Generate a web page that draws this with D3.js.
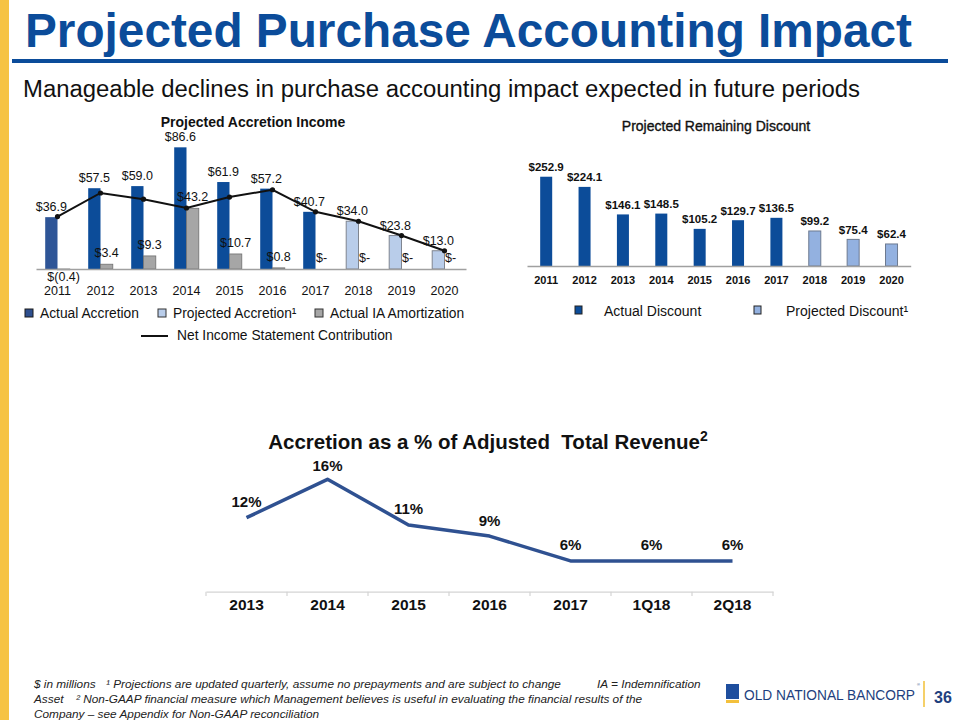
<!DOCTYPE html>
<html>
<head>
<meta charset="utf-8">
<script src="https://cdn.jsdelivr.net/npm/d3@7"></script>
<style>
  html, body { margin: 0; padding: 0; background: #fff; }
  text { font-family: "Liberation Sans", Arial, sans-serif; }
</style>
</head>
<body>
<svg id="chart" width="960" height="720"></svg>
<script>
// ---------- DATA ----------
const accYears = ["2011","2012","2013","2014","2015","2016","2017","2018","2019","2020"];
const actualAccretion = [36.9, 57.5, 59.0, 86.6, 61.9, 57.2, 40.7, null, null, null];
const projectedAccretion = [null, null, null, null, null, null, null, 34.0, 23.8, 13.0];
const iaAmortization = [-0.4, 3.4, 9.3, 43.2, 10.7, 0.8, 0, 0, 0, 0];
const netContribution = [37.3, 54.1, 49.7, 43.4, 51.2, 56.4, 40.7, 34.0, 23.8, 13.0];

const discYears = ["2011","2012","2013","2014","2015","2016","2017","2018","2019","2020"];
const actualDiscount = [252.9, 224.1, 146.1, 148.5, 105.2, 129.7, 136.5, null, null, null];
const projectedDiscount = [null, null, null, null, null, null, null, 99.2, 75.4, 62.4];

const revCategories = ["2013","2014","2015","2016","2017","1Q18","2Q18"];
const accretionPct = [11.6, 16.4, 10.7, 9.3, 6.2, 6.2, 6.2];

// ---------- HELPERS ----------
const svg = d3.select("#chart");
const money = v => v === 0 ? "$-" : (v < 0 ? "$(" + Math.abs(v).toFixed(1) + ")" : "$" + v.toFixed(1));
const pct = v => d3.format(".0f")(v) + "%";

svg.append("rect").attr("width", 960).attr("height", 720).attr("fill", "#fff");

// left gold bar
svg.append("rect").attr("x", 0).attr("y", 0).attr("width", 9).attr("height", 720).attr("fill", "#F6C343");

// ---------- HEADER ----------
svg.append("text").attr("x", 25).attr("y", 47)
  .attr("font-size", 47.6).attr("font-weight", "bold").attr("fill", "#0B4C9A")
  .attr("textLength", 887).attr("lengthAdjust", "spacingAndGlyphs")
  .text("Projected Purchase Accounting Impact");
svg.append("rect").attr("x", 12).attr("y", 59).attr("width", 936).attr("height", 4).attr("fill", "#0B4C9A");
svg.append("text").attr("x", 23).attr("y", 97)
  .attr("font-size", 23).attr("fill", "#111")
  .attr("textLength", 837).attr("lengthAdjust", "spacingAndGlyphs")
  .text("Manageable declines in purchase accounting impact expected in future periods");

// ---------- LEFT CHART: Projected Accretion Income ----------
const gL = svg.append("g");
const xL = d3.scaleBand().domain(accYears).range([36, 466]).paddingInner(0.428).paddingOuter(0.214);
const xLsub = d3.scaleBand().domain(["acc", "ia"]).range([0, xL.bandwidth()]);
const yL = d3.scaleLinear().domain([0, 100]).range([269, 128.5]);

gL.append("text").attr("x", 253).attr("y", 127).attr("text-anchor", "middle")
  .attr("font-size", 14).attr("font-weight", "bold").attr("fill", "#111")
  .text("Projected Accretion Income");

const accData = accYears.map((y, i) => ({
  year: y,
  value: actualAccretion[i] != null ? actualAccretion[i] : projectedAccretion[i],
  projected: actualAccretion[i] == null,
  ia: iaAmortization[i],
  net: netContribution[i],
  i: i
}));

// accretion bars
gL.selectAll(".acc").data(accData).enter().append("rect")
  .attr("x", d => xL(d.year) + xLsub("acc"))
  .attr("y", d => yL(Math.max(d.value, 0)))
  .attr("width", xLsub.bandwidth())
  .attr("height", d => Math.abs(yL(d.value) - yL(0)))
  .attr("fill", d => d.projected ? "#B9CDEA" : (d.i === 0 ? "#2E5597" : "#0C4C99"))
  .attr("stroke", d => d.projected ? "#7F8590" : "none")
  .attr("stroke-width", 1);

// IA amortization bars
gL.selectAll(".ia").data(accData.filter(d => d.ia !== 0)).enter().append("rect")
  .attr("x", d => xL(d.year) + xLsub("ia"))
  .attr("y", d => yL(Math.max(d.ia, 0)))
  .attr("width", xLsub.bandwidth())
  .attr("height", d => Math.max(Math.abs(yL(d.ia) - yL(0)), 0.8))
  .attr("fill", "#A6A6A6").attr("stroke", "#6F6F6F").attr("stroke-width", 0.8);

// axis
const axL = gL.append("g").attr("transform", "translate(0,269)")
  .call(d3.axisBottom(xL).tickSize(0).tickSizeOuter(0).tickPadding(17));
axL.select(".domain").attr("stroke", "#A0A0A0").attr("stroke-width", 1.5);
axL.selectAll("text").attr("font-size", 12.5).attr("fill", "#111")
  .attr("font-family", "Liberation Sans, Arial, sans-serif");

// net line
const lineL = d3.line().x(d => xL(d.year) + xL.bandwidth() / 2).y(d => yL(d.net));
gL.append("path").datum(accData).attr("d", lineL)
  .attr("fill", "none").attr("stroke", "#111").attr("stroke-width", 2);
gL.selectAll(".dot").data(accData).enter().append("circle")
  .attr("cx", d => xL(d.year) + xL.bandwidth() / 2).attr("cy", d => yL(d.net))
  .attr("r", 2.6).attr("fill", "#111");

// labels accretion
gL.selectAll(".accLbl").data(accData).enter().append("text")
  .attr("x", d => xL(d.year) + xLsub("acc") + xLsub.bandwidth() / 2)
  .attr("y", d => yL(d.value) - 6)
  .attr("text-anchor", "middle").attr("font-size", 12.5).attr("fill", "#111")
  .text(d => money(d.value));
// labels IA
gL.selectAll(".iaLbl").data(accData).enter().append("text")
  .attr("x", d => xL(d.year) + xLsub("ia") + xLsub.bandwidth() / 2)
  .attr("y", d => d.ia < 0 ? yL(0) + 12 : yL(d.ia) - 7)
  .attr("text-anchor", "middle").attr("font-size", 12.5).attr("fill", "#111")
  .text(d => money(d.ia));

// left legend
const legL = svg.append("g");
const legItems = [
  { x: 25, fill: "#2E4F8E", stroke: "#1A1A1A", label: "Actual Accretion" },
  { x: 158, fill: "#B9CDEA", stroke: "#333", label: "Projected Accretion¹" },
  { x: 315, fill: "#A6A6A6", stroke: "#333", label: "Actual IA Amortization" }
];
legItems.forEach(it => {
  legL.append("rect").attr("x", it.x).attr("y", 309).attr("width", 8).attr("height", 8)
    .attr("fill", it.fill).attr("stroke", it.stroke).attr("stroke-width", 1);
  legL.append("text").attr("x", it.x + 15).attr("y", 318).attr("font-size", 13.8).attr("fill", "#111").text(it.label);
});
legL.append("line").attr("x1", 141).attr("x2", 168).attr("y1", 336).attr("y2", 336)
  .attr("stroke", "#111").attr("stroke-width", 2);
legL.append("text").attr("x", 177).attr("y", 340).attr("font-size", 13.8).attr("fill", "#111")
  .text("Net Income Statement Contribution");

// ---------- RIGHT CHART: Projected Remaining Discount ----------
const gR = svg.append("g");
const xR = d3.scaleBand().domain(discYears).range([527, 910.7]).paddingInner(0.687).paddingOuter(0.3435);
const yR = d3.scaleLinear().domain([0, 300]).range([266, 160.1]);

gR.append("text").attr("x", 716).attr("y", 131).attr("text-anchor", "middle")
  .attr("font-size", 14).attr("fill", "#111").attr("stroke", "#111").attr("stroke-width", 0.35)
  .text("Projected Remaining Discount");

const discData = discYears.map((y, i) => ({
  year: y,
  value: actualDiscount[i] != null ? actualDiscount[i] : projectedDiscount[i],
  projected: actualDiscount[i] == null
}));

gR.selectAll(".bar").data(discData).enter().append("rect")
  .attr("x", d => xR(d.year)).attr("y", d => yR(d.value))
  .attr("width", xR.bandwidth()).attr("height", d => yR(0) - yR(d.value))
  .attr("fill", d => d.projected ? "#93B1E0" : "#0C4C99")
  .attr("stroke", d => d.projected ? "#6D7A90" : "none").attr("stroke-width", 1);

const axR = gR.append("g").attr("transform", "translate(0,266)")
  .call(d3.axisBottom(xR).tickSize(0).tickSizeOuter(0).tickPadding(10));
axR.select(".domain").attr("stroke", "#A0A0A0").attr("stroke-width", 1.5);
axR.selectAll("text").attr("font-size", 11).attr("font-weight", "bold").attr("fill", "#111")
  .attr("font-family", "Liberation Sans, Arial, sans-serif");

gR.selectAll(".lbl").data(discData).enter().append("text")
  .attr("x", d => xR(d.year) + xR.bandwidth() / 2).attr("y", d => yR(d.value) - 5.5)
  .attr("text-anchor", "middle").attr("font-size", 11.5).attr("font-weight", "bold").attr("fill", "#111")
  .text(d => money(d.value));

// right legend
const legR = svg.append("g");
[
  { x: 575, fill: "#0C4C99", label: "Actual Discount", tx: 604 },
  { x: 754, fill: "#93B1E0", label: "Projected Discount¹", tx: 786 }
].forEach(it => {
  legR.append("rect").attr("x", it.x).attr("y", 306).attr("width", 7).attr("height", 8)
    .attr("fill", it.fill).attr("stroke", "#222").attr("stroke-width", 1);
  legR.append("text").attr("x", it.tx).attr("y", 316).attr("font-size", 14).attr("fill", "#111").text(it.label);
});

// ---------- BOTTOM CHART: Accretion as a % ----------
const gB = svg.append("g");
const xB = d3.scaleBand().domain(revCategories).range([206, 773]).padding(0);
const yB = d3.scaleLinear().domain([0, 20]).range([610.5, 450.5]);

const tB = gB.append("text").attr("x", 488).attr("y", 449).attr("text-anchor", "middle")
  .attr("font-size", 20.5).attr("font-weight", "bold").attr("fill", "#111")
  .attr("style", "white-space: pre");
tB.append("tspan").text("Accretion as a % of Adjusted  Total Revenue");
tB.append("tspan").attr("dy", -8).attr("font-size", 14).text("2");

const axB = gB.append("g").attr("transform", "translate(0,591.7)")
  .call(d3.axisBottom(xB).tickSize(0).tickSizeOuter(0).tickPadding(7.6));
axB.select(".domain").attr("stroke", "#D4D4D4").attr("stroke-width", 1.2);
axB.selectAll("text").attr("font-size", 15.5).attr("font-weight", "bold").attr("fill", "#111")
  .attr("font-family", "Liberation Sans, Arial, sans-serif");
const sepPos = revCategories.map(c => xB(c)).concat([xB(revCategories[revCategories.length - 1]) + xB.step()]);
gB.selectAll(".sep").data(sepPos).enter().append("line")
  .attr("x1", d => d).attr("x2", d => d).attr("y1", 591.7).attr("y2", 596)
  .attr("stroke", "#D4D4D4").attr("stroke-width", 1.2);

const revData = revCategories.map((c, i) => ({ cat: c, value: accretionPct[i] }));
const lineB = d3.line().x(d => xB(d.cat) + xB.bandwidth() / 2).y(d => yB(d.value));
gB.append("path").datum(revData).attr("d", lineB)
  .attr("fill", "none").attr("stroke", "#2F5191").attr("stroke-width", 3.5)
  .attr("stroke-linejoin", "round");
gB.selectAll(".lbl").data(revData).enter().append("text")
  .attr("x", d => xB(d.cat) + xB.bandwidth() / 2).attr("y", d => yB(d.value) - (d.value > 15 ? 8 : 10.5))
  .attr("text-anchor", "middle").attr("font-size", 15).attr("font-weight", "bold").attr("fill", "#111")
  .text(d => pct(d.value));

// ---------- FOOTER ----------
const foot = svg.append("g").attr("font-size", 11.8).attr("font-style", "italic").attr("fill", "#222");
foot.append("text").attr("x", 34).attr("y", 688).text("$ in millions");
foot.append("text").attr("x", 106).attr("y", 688).text("¹ Projections are updated quarterly, assume no prepayments and are subject to change");
foot.append("text").attr("x", 597).attr("y", 688).text("IA = Indemnification");
foot.append("text").attr("x", 34).attr("y", 703).text("Asset");
foot.append("text").attr("x", 76).attr("y", 703).text("² Non-GAAP financial measure which Management believes is useful in evaluating the financial results of the");
foot.append("text").attr("x", 34).attr("y", 718).text("Company – see Appendix for Non-GAAP reconciliation");

// logo
svg.append("rect").attr("x", 726).attr("y", 684).attr("width", 13).attr("height", 15).attr("fill", "#1E4E9E");
svg.append("rect").attr("x", 726).attr("y", 700).attr("width", 13).attr("height", 3).attr("fill", "#F3C03C");
svg.append("text").attr("x", 744).attr("y", 700).attr("font-family", "Liberation Serif, serif")
  .attr("font-size", 15).attr("fill", "#1E3F7E").attr("textLength", 171).attr("lengthAdjust", "spacingAndGlyphs")
  .text("OLD NATIONAL BANCORP");
svg.append("text").attr("x", 917).attr("y", 686).attr("font-size", 4).attr("fill", "#1E3F7E").text("®");
svg.append("line").attr("x1", 924).attr("x2", 924).attr("y1", 681).attr("y2", 707)
  .attr("stroke", "#F2C037").attr("stroke-width", 1.5);
svg.append("text").attr("x", 934).attr("y", 703).attr("font-size", 16).attr("font-weight", "bold")
  .attr("fill", "#1E3F7E").text("36");
</script>
</body>
</html>
